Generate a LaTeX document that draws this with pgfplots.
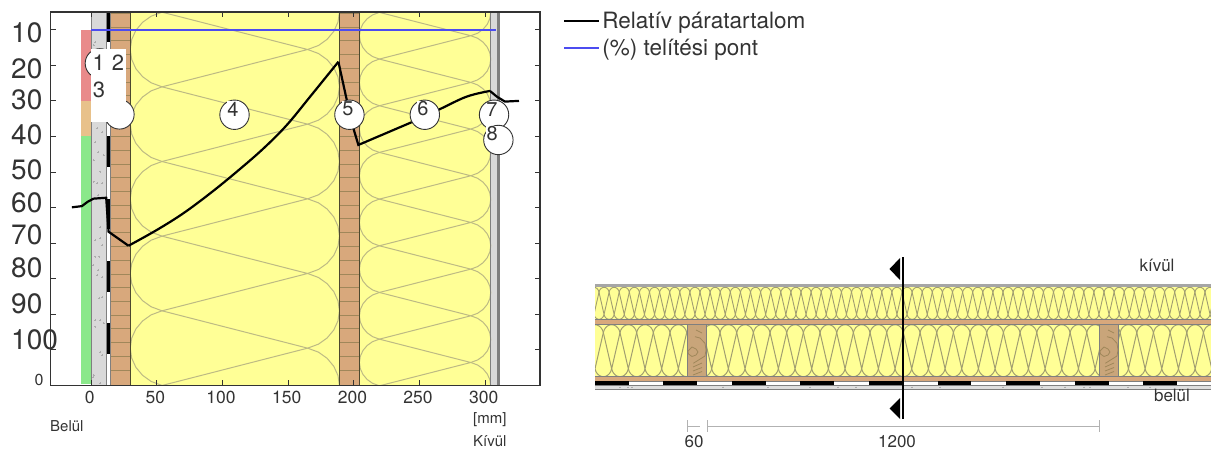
\documentclass[border=0pt]{standalone}
\usepackage{fontspec}
\setmainfont{TeX Gyre Heros}
\usepackage{pgfplots}
\usepackage{pgfplotstable}
\pgfplotsset{compat=1.18}

\definecolor{wool}{HTML}{FFFF96}
\definecolor{woolline}{HTML}{BDBA84}
\definecolor{wood}{HTML}{D8A87C}
\definecolor{woodline}{HTML}{A0875A}
\definecolor{stud}{HTML}{C9A57A}
\definecolor{conc}{HTML}{D9D9D9}
\definecolor{edge}{HTML}{7F7F7F}
\definecolor{ink}{HTML}{333333}
\definecolor{satur}{HTML}{4C4CF0}
\definecolor{stripeR}{HTML}{E98A8A}
\definecolor{stripeO}{HTML}{E8C18A}
\definecolor{stripeG}{HTML}{8AE88A}

% one period of the batt pattern: u across the layer, v along it
\pgfplotstableread{
u v
0.848 0.5
0.152 0
0.100 0.054
0.059 0.136
0.027 0.243
0.007 0.367
0 0.5
0.007 0.633
0.027 0.757
0.059 0.864
0.100 0.946
0.152 1
0.848 0.5
0.900 0.554
0.941 0.636
0.973 0.743
0.993 0.867
1 1
0.993 1.133
0.973 1.257
0.941 1.364
0.900 1.446
0.848 1.5
}\woolcell

% relative humidity, one table per stretch between the kinks
\pgfplotstableread{
x y
-14.7 50.06
-7.1 50.4
-2.8 51.6
1.75 52.5
11.4 52.75
13.2 43.2
28.4 39.25
}\humA
\pgfplotstableread{
x y
28.4 39.25
50 43.7
70.2 48.4
90.6 54.0
110.9 60.1
131.1 66.6
148.9 73.2
166.7 81.2
188.2 91.0
}\humB
\pgfplotstableread{
x y
188.2 91.0
194.6 80.2
199.6 72.3
203.4 67.6
244 74.0
}\humC
\pgfplotstableread{
x y
244 74.0
265.6 77.7
285.9 81.2
303.6 82.8
}\humD
\pgfplotstableread{
x y
303.6 82.8
308.8 81.2
315 79.8
325.7 80.0
}\humE

\newcommand{\layer}[5]{\addplot[fill=#1,draw=none,forget plot] coordinates {(#2,#4)(#3,#4)(#3,#5)(#2,#5)} -- cycle;}
\newcommand{\vln}[3]{\addplot[#1,line width=#2,forget plot] coordinates {(#3,0)(#3,105)};}
\newcommand{\wdln}[1]{%
  \addplot[woodline,line width=0.9pt,forget plot] coordinates {(14.5,#1)(29.7,#1)};
  \addplot[woodline,line width=0.9pt,forget plot] coordinates {(189,#1)(204.2,#1)};}
\newcommand{\lab}[2]{\raisebox{#1pt}[0pt][0pt]{#2}}
\newcommand{\txt}[4]{\node[font=\fontsize{#3}{#3}\selectfont,text=ink,inner sep=0.5pt,fill=white] at (#1pt,{(450-#2)*1pt}) {#4};}
\newcommand{\txa}[4]{\node[font=\fontsize{#3}{#3}\selectfont,text=ink,inner sep=0pt,anchor=west] at (#1pt,{(450-#2)*1pt}) {#4};}

\begin{document}
\begin{tikzpicture}[x=1pt,y=1pt]
\path[use as bounding box] (0,0) rectangle (1211pt,450pt);

\begin{axis}[
    at={(50.5pt,64.7pt)},
    anchor=south west,
    scale only axis,
    width=489.5pt,
    height=373.3pt,
    xmin=-31, xmax=341.7,
    ymin=0, ymax=105,
    xtick={0,50,100,150,200,250,300},
    ytick={0,10,20,30,40,50,60,70,80,90,100},
    yticklabels={
      \hspace*{23.5pt}\lab{-0.7}{\fontsize{16}{16}\selectfont 0},
      \lab{0.7}{100},\lab{1}{90},\lab{0.7}{80},\lab{-1.7}{70},\lab{-5}{60},
      \lab{-8}{50},\lab{-7.7}{40},\lab{-9}{30},\lab{-13}{20},\lab{-13}{10}},
    yticklabel style={anchor=west,xshift=-39.5pt,inner sep=0pt,text=ink,font=\fontsize{28}{28}\selectfont},
    xticklabel style={text=ink,font=\fontsize{17.5}{17.5}\selectfont,xshift=-1.5pt,yshift=-2pt},
    /pgf/number format/assume math mode=true,
    tick align=inside,
    major tick length=5.5pt,
    tick style={ink,line width=0.9pt},
    axis line style={ink,line width=1.1pt},
    axis on top,
    clip marker paths=true,
    legend style={at={(1.047,1.006)},anchor=north west,draw=none,fill=none,inner sep=0pt,
      font=\fontsize{22.5}{22.5}\selectfont,text=ink,row sep=5pt,
      /tikz/every even column/.append style={column sep=3pt}},
    legend cell align=left,
    legend image code/.code={\draw[#1] (0pt,0pt) -- (35pt,0pt);},
]

% indicator stripe
\layer{stripeR}{-7.6}{0}{80}{100}
\layer{stripeO}{-7.6}{0}{70}{80}
\layer{stripeG}{-7.6}{0}{0.5}{70}

% wall layers
\layer{conc}{0}{11.4}{0}{105}
\layer{white}{11.4}{14.5}{0}{105}
\layer{wood}{14.5}{29.7}{0}{105}
\layer{wool}{29.7}{189}{0}{105}
\layer{wood}{189}{204.2}{0}{105}
\layer{wool}{204.2}{304.2}{0}{105}
\layer{conc}{304.2}{309}{0}{105}
\layer{white}{309}{310.5}{0}{105}

% concrete aggregate
\addplot[only marks,mark=+,mark size=1pt,color=gray!65,forget plot] coordinates {
(3,96.6)(1.8,95.7)(4.3,72.3)(8.1,71.3)(3,68.5)(5.5,65.7)(9.4,64.8)(1.8,63.4)
(6.8,60.1)(1.8,57.3)(4.3,56.8)(8.1,56.8)(5.5,53.5)(6.8,44.6)(6.8,41.3)(3,40.9)
(8.1,39.5)(3,36.2)(6.3,36.2)(1.3,33.8)(5.5,32.4)(4.3,31)(8.1,30.5)(8.1,24.7)
(6.3,24.5)(3,18.4)(6.8,18.4)(9.4,17.4)(3,16.5)(6.8,9.4)(8.1,8.5)(1.8,2.9)(1.3,2.4)(6.8,0.6)
};

% vapour barrier dashes
\layer{black}{11.4}{14.5}{96.5}{105}
\layer{black}{11.4}{14.5}{79}{87.5}
\layer{black}{11.4}{14.5}{61.5}{70}
\layer{black}{11.4}{14.5}{44}{52.5}
\layer{black}{11.4}{14.5}{26.3}{35}
\layer{black}{11.4}{14.5}{8.8}{17.4}

% wood courses
\wdln{4.3}\wdln{8.2}\wdln{12}\wdln{15.9}\wdln{19.7}\wdln{23.6}\wdln{27.4}
\wdln{31.3}\wdln{35.1}\wdln{39}\wdln{43}\wdln{46.8}\wdln{50.7}\wdln{54.5}
\wdln{58.4}\wdln{62.2}\wdln{66.1}\wdln{69.9}\wdln{73.8}\wdln{77.6}\wdln{81.5}
\wdln{85.3}\wdln{89.2}\wdln{93}\wdln{96.9}\wdln{100.7}\wdln{104.6}

% batts
\pgfplotsinvokeforeach{-2,...,4}{
  \addplot[woolline,line width=1pt,forget plot] table[x expr={29.7+159.3*\thisrow{u}},y expr={83.95-21*(#1+\thisrow{v})}] {\woolcell};
}
\pgfplotsinvokeforeach{-2,...,7}{
  \addplot[woolline,line width=1pt,forget plot] table[x expr={204.2+100*\thisrow{u}},y expr={91.76-13.13*(#1+\thisrow{v})}] {\woolcell};
}

% layer edges
\vln{edge}{1.2pt}{0}
\vln{edge}{1.2pt}{11.4}
\vln{edge}{0.8pt}{14.5}
\vln{black!60!olive}{1pt}{29.7}
\vln{black!60!olive}{1pt}{189}
\vln{black!60!olive}{1pt}{204.2}
\vln{edge}{1.2pt}{304.2}
\vln{edge}{1pt}{309}
\vln{edge}{1.2pt}{310.5}

\addplot[black,line width=2.2pt,forget plot] table[x=x,y=y] {\humA};
\addplot[black,line width=2.2pt,forget plot] table[x=x,y=y] {\humC};
\addplot[black,line width=2.2pt,forget plot] table[x=x,y=y] {\humE};
\addplot[black,line width=2.2pt,forget plot,smooth,tension=0.6] table[x=x,y=y] {\humD};
\addplot[black,line width=2.2pt,smooth,tension=0.6] table[x=x,y=y] {\humB};
\addlegendentry{Relatív páratartalom}
\addplot[satur,line width=2pt] coordinates {(0,100)(308,100)};
\addlegendentry{(\%) telítési pont}

% layer markers
\addplot[only marks,mark=*,mark size=14.7pt,mark options={fill=white,draw=ink,line width=0.9pt},forget plot]
  coordinates {(6.6,90.55)(21.5,76.2)};
\layer{white}{0}{26.6}{74.1}{94.6}
\addplot[only marks,mark=*,mark size=14.7pt,mark options={fill=white,draw=ink,line width=0.9pt},forget plot]
  coordinates {(109.1,76.1)(196.6,76.1)(254,76.1)(306.7,76.1)(310,69)};

\end{axis}

\begin{axis}[
    at={(595pt,0pt)},
    anchor=south west,
    scale only axis,
    width=616pt,
    height=200pt,
    xmin=595, xmax=1211,
    ymin=250, ymax=450,
    y dir=reverse,
    hide axis,
]
% section through the wall
\layer{wool}{595}{1211}{287.3}{319.3}
\layer{wool}{595}{1211}{324.7}{376.7}
\pgfplotsinvokeforeach{-1,...,61}{
  \addplot[woolline!85!black,line width=0.9pt,forget plot] table[y expr={287.3+32*\thisrow{u}},x expr={599+10.1*(#1+\thisrow{v})}] {\woolcell};
}
\pgfplotsinvokeforeach{-2,...,36}{
  \addplot[woolline!85!black,line width=1pt,forget plot] table[y expr={324.7+52*\thisrow{u}},x expr={620+16.67*(#1+\thisrow{v})}] {\woolcell};
}
\layer{gray!70}{595}{1211}{284}{287.3}
\layer{wood}{595}{1211}{319.3}{324.7}
\layer{wood}{595}{1211}{376.7}{381.3}
\layer{gray!25}{595}{1211}{385}{390}
\layer{stud}{687.3}{706.7}{324.7}{376.7}
\layer{stud}{1099.3}{1118.7}{324.7}{376.7}
\addplot[edge,line width=0.8pt,forget plot] coordinates {(595,319.3)(1211,319.3)};
\addplot[edge,line width=0.8pt,forget plot] coordinates {(595,324.7)(1211,324.7)};
\addplot[edge,line width=0.8pt,forget plot] coordinates {(595,376.7)(1211,376.7)};
\addplot[edge,line width=0.8pt,forget plot] coordinates {(595,381.3)(1211,381.3)};
\addplot[edge,line width=0.8pt,forget plot] coordinates {(595,385.5)(1211,385.5)};
\addplot[edge,line width=0.8pt,forget plot] coordinates {(595,389.7)(1211,389.7)};
\addplot[edge,line width=0.8pt,forget plot] coordinates {(687.3,324.7)(687.3,376.7)};
\addplot[edge,line width=0.8pt,forget plot] coordinates {(706.7,324.7)(706.7,376.7)};
\addplot[edge,line width=0.8pt,forget plot] coordinates {(1099.3,324.7)(1099.3,376.7)};
\addplot[edge,line width=0.8pt,forget plot] coordinates {(1118.7,324.7)(1118.7,376.7)};

% grain of the studs
\addplot[woodline,line width=0.8pt,forget plot] coordinates {(696,330)(702,333)};
\addplot[woodline,line width=0.8pt,forget plot] coordinates {(695,336.7)(700,338)(705,343.3)(706,350)(705,356)(693.3,363.3)};
\addplot[woodline,line width=0.8pt,forget plot] coordinates {(692,347)(696,349)(698,352)(696,355)(692,356.5)(688.5,354)(688,351)(692,347)};
\addplot[woodline,line width=0.8pt,forget plot] coordinates {(693,367)(702,363)};
\addplot[woodline,line width=0.8pt,forget plot] coordinates {(693,371)(702,367.5)};
\addplot[woodline,line width=0.8pt,forget plot] coordinates {(693,375)(702,371.5)};
\addplot[woodline,line width=0.8pt,forget plot] coordinates {(1108,330)(1114,333)};
\addplot[woodline,line width=0.8pt,forget plot] coordinates {(1107,336.7)(1112,338)(1117,343.3)(1118,350)(1117,356)(1105.3,363.3)};
\addplot[woodline,line width=0.8pt,forget plot] coordinates {(1104,347)(1108,349)(1110,352)(1108,355)(1104,356.5)(1100.5,354)(1100,351)(1104,347)};
\addplot[woodline,line width=0.8pt,forget plot] coordinates {(1105,367)(1114,363)};
\addplot[woodline,line width=0.8pt,forget plot] coordinates {(1105,371)(1114,367.5)};
\addplot[woodline,line width=0.8pt,forget plot] coordinates {(1105,375)(1114,371.5)};

% vapour barrier
\layer{black}{594.3}{628.7}{381.3}{384.7}
\layer{black}{663}{697}{381.3}{384.7}
\layer{black}{731.7}{766}{381.3}{384.7}
\layer{black}{800}{834.3}{381.3}{384.7}
\layer{black}{869}{903}{381.3}{384.7}
\layer{black}{937.7}{971.3}{381.3}{384.7}
\layer{black}{1006}{1040}{381.3}{384.7}
\layer{black}{1074.7}{1109}{381.3}{384.7}
\layer{black}{1143}{1177}{381.3}{384.7}
\addplot[only marks,mark=+,mark size=0.9pt,color=gray!65,forget plot] coordinates {
(620,387.5)(628,387.5)(632,387.5)(723,387.5)(768,387.5)(810,387.5)(838,387.5)(856,387.5)(912,387.5)(940,387.5)
(1003,387.5)(1042,387.5)(1065,387.5)(1084,387.5)(1090,387.5)(1128,387.5)(1150,387.5)};

% section mark
\addplot[black,line width=2pt,forget plot] coordinates {(903.3,257.3)(903.3,419.3)};
\addplot[fill=black,draw=none,forget plot] coordinates {(900,258)(900,280)(889.5,269)} -- cycle;
\addplot[fill=black,draw=none,forget plot] coordinates {(900,398)(900,419)(889.5,408.5)} -- cycle;

% dimensions
\addplot[gray!60,line width=1pt,forget plot] coordinates {(687.5,426.7)(700,426.7)};
\addplot[gray!60,line width=1pt,forget plot] coordinates {(707,426.7)(1099,426.7)};
\addplot[gray!60,line width=1pt,forget plot] coordinates {(687.5,420)(687.5,431.5)};
\addplot[gray!60,line width=1pt,forget plot] coordinates {(707,420)(707,431.5)};
\addplot[gray!60,line width=1pt,forget plot] coordinates {(1099,420)(1099,431.5)};
\end{axis}

% marker numbers
\txt{98.7}{63}{22}{1}
\txt{118}{63}{22}{2}
\txt{99}{90}{22}{3}
\txt{233}{109}{20}{4}
\txt{348}{109}{20}{5}
\txt{423}{109}{20}{6}
\txt{492}{110}{20}{7}
\txt{492.3}{134}{20}{8}

% side captions
\txa{50}{426}{15}{Belül}
\txa{473}{420}{15}{[mm]}
\txa{473}{441}{15}{Kívül}
\node[font=\fontsize{17}{17}\selectfont,text=ink] at (694pt,8pt) {60};
\node[font=\fontsize{17}{17}\selectfont,text=ink] at (897pt,8pt) {1200};
\node[font=\fontsize{17}{17}\selectfont,text=ink] at (1157pt,184.5pt) {kívül};
\node[font=\fontsize{17}{17}\selectfont,text=ink] at (1172pt,54.5pt) {belül};
\end{tikzpicture}
\end{document}
